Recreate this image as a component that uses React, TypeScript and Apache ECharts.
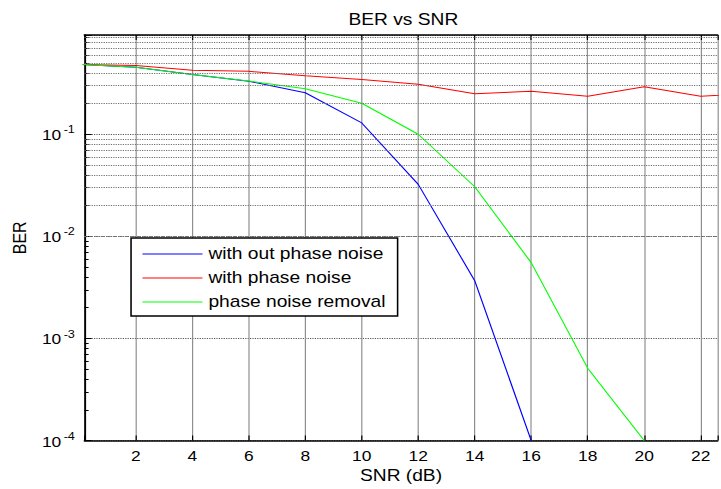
import { useEffect, useRef } from "react";
import * as echarts from "echarts";

// ---- data ----
const snrDb = [0, 2, 4, 6, 8, 10, 12, 14, 16, 18, 20, 22, 24];
const berWithoutPhaseNoise = [0.482, 0.452, 0.384, 0.33, 0.255, 0.129, 0.0323, 0.00368, 0.0001];
const berWithPhaseNoise = [0.481, 0.472, 0.423, 0.413, 0.373, 0.343, 0.309, 0.249, 0.263, 0.236, 0.292, 0.236, 0.25];
const berPhaseNoiseRemoval = [0.482, 0.452, 0.384, 0.332, 0.279, 0.201, 0.1, 0.0306, 0.00553, 0.000512, 0.0001];
const seriesNames = ["with out phase noise", "with phase noise", "phase noise removal"];
const seriesColors = ["#0000ff", "#ff0000", "#00ff00"];
const titleText = "BER vs SNR";
const xName = "SNR (dB)";
const yName = "BER";

// minor log grid values (k * 10^n)
const decadeExps = [-4, -3, -2, -1];
const minorMultipliers = [2, 3, 4, 5, 6, 7, 8, 9];
const minorGrid: number[] = [];
decadeExps.forEach((e) => minorMultipliers.forEach((k) => minorGrid.push(k * Math.pow(10, e))));

const FONT = '"Liberation Sans", Arial, Helvetica, sans-serif';
const SX = 1.2; // horizontal stretch of the reference
const W = 601;
const H = 489;

const toPairs = (vals: number[]) => vals.map((v, i) => [snrDb[i], v]);

export default function App() {
  const ref = useRef<HTMLDivElement>(null);
  useEffect(() => {
    if (!ref.current) return;
    const chart = echarts.init(ref.current, undefined, { renderer: "svg" });
    const xMin = 0.18;
    const xMax = 22.6;
    const yMin = 1e-4;
    const yMax = 0.937;
    const gridLeft = 69.17;
    const gridWidth = 534;
    const option: any = {
      animation: false,
      backgroundColor: "#ffffff",
      textStyle: { fontFamily: FONT },
      title: {
        text: titleText,
        left: gridLeft + gridWidth / 2,
        top: 12,
        textAlign: "center",
        padding: 0,
        textStyle: { fontSize: 16, fontWeight: "normal", color: "#000", fontFamily: FONT, lineHeight: 16 },
      },
      legend: {
        data: seriesNames,
        orient: "vertical",
        left: 109.2,
        top: 238,
        padding: [8, 10, 6, 9],
        itemWidth: 50,
        itemHeight: 14,
        itemGap: 8,
        backgroundColor: "#ffffff",
        borderColor: "#000000",
        borderWidth: 1.3,
        borderRadius: 0,
        itemStyle: { opacity: 0 },
        lineStyle: { width: 1, opacity: 1 },
        textStyle: { fontSize: 16, color: "#000", fontFamily: FONT },
      },
      grid: { left: gridLeft, top: 35, width: gridWidth, height: 410, containLabel: false },
      xAxis: [
        {
          type: "value",
          position: "bottom",
          min: xMin,
          max: xMax,
          splitNumber: 11,
          name: xName,
          nameLocation: "middle",
          nameGap: 27,
          nameTextStyle: { fontSize: 16, color: "#000", fontFamily: FONT },
          axisLine: { show: true, onZero: false, lineStyle: { color: "#000", width: 1.5 } },
          axisTick: { show: true, inside: true, length: 5, lineStyle: { color: "#000", width: 1 } },
          axisLabel: {
            margin: 7.5,
            fontSize: 14.5,
            color: "#000",
            fontFamily: FONT,
            formatter: (v: number) => (Math.abs(v - Math.round(v)) < 1e-6 ? String(Math.round(v)) : ""),
          },
          splitLine: { show: true, lineStyle: { color: "#8f8f8f", width: 1, type: "solid" } },
        },
        {
          type: "value",
          position: "top",
          min: xMin,
          max: xMax,
          splitNumber: 11,
          axisLine: { show: true, onZero: false, lineStyle: { color: "#000", width: 1.5 } },
          axisTick: { show: true, inside: true, length: 5, lineStyle: { color: "#000", width: 1 } },
          axisLabel: { show: false },
          splitLine: { show: false },
        },
      ],
      yAxis: [
        {
          type: "log",
          logBase: 10,
          min: yMin,
          max: yMax,
          position: "left",
          name: yName,
          nameLocation: "middle",
          nameGap: 44,
          nameTextStyle: { fontSize: 16, color: "#000", fontFamily: FONT },
          axisLine: { show: true, onZero: false, lineStyle: { color: "#000", width: 1.5 } },
          axisTick: { show: true, inside: true, length: 6, lineStyle: { color: "#000", width: 1 } },
          axisLabel: {
            margin: 8,
            color: "#000",
            fontFamily: FONT,
            formatter: (v: number) => {
              const e = Math.log10(v);
              if (Math.abs(e - Math.round(e)) > 1e-6) return "";
              return `{b|10}{s|${Math.round(e)}}`;
            },
            rich: {
              b: { fontSize: 14.5, lineHeight: 20, color: "#000", fontFamily: FONT, padding: [2, 0, 0, 0] },
              s: { fontSize: 10.5, lineHeight: 9, verticalAlign: "top", color: "#000", fontFamily: FONT, padding: [0, 0, 0, 2] },
            },
          },
          splitLine: { show: true, lineStyle: { color: "#555", width: 1, type: [1, 1] } },
        },
        {
          type: "log",
          logBase: 10,
          min: yMin,
          max: yMax,
          position: "left",
          axisLine: { show: false },
          axisTick: { show: true, inside: true, length: 3.5, customValues: minorGrid, lineStyle: { color: "#000", width: 1 } },
          axisLabel: { show: false },
          splitLine: { show: false },
        },
      ],
      series: [
        {
          name: "__minorGrid",
          type: "line",
          data: [],
          z: 1,
          silent: true,
          markLine: {
            silent: true,
            symbol: ["none", "none"],
            label: { show: false },
            emphasis: { disabled: true },
            lineStyle: { color: "#6f6f6f", width: 1, type: [1, 1] },
            data: minorGrid.map((v) => ({ yAxis: v })),
          },
        },
        ...[berWithoutPhaseNoise, berWithPhaseNoise, berPhaseNoiseRemoval].map((vals, i) => ({
          name: seriesNames[i],
          type: "line",
          data: toPairs(vals),
          symbol: "none",
          showSymbol: false,
          z: 3,
          clip: true,
          lineStyle: { color: seriesColors[i], width: 1 },
          itemStyle: { color: seriesColors[i] },
        })),
      ],
    };
    chart.setOption(option);
    return () => chart.dispose();
  }, []);

  return (
    <div style={{ position: "fixed", left: 0, top: 0, width: 721, height: 489, overflow: "hidden", background: "#fff" }}>
      <div
        ref={ref}
        style={{ width: W, height: H, transform: `scaleX(${SX})`, transformOrigin: "0 0" }}
      />
    </div>
  );
}
